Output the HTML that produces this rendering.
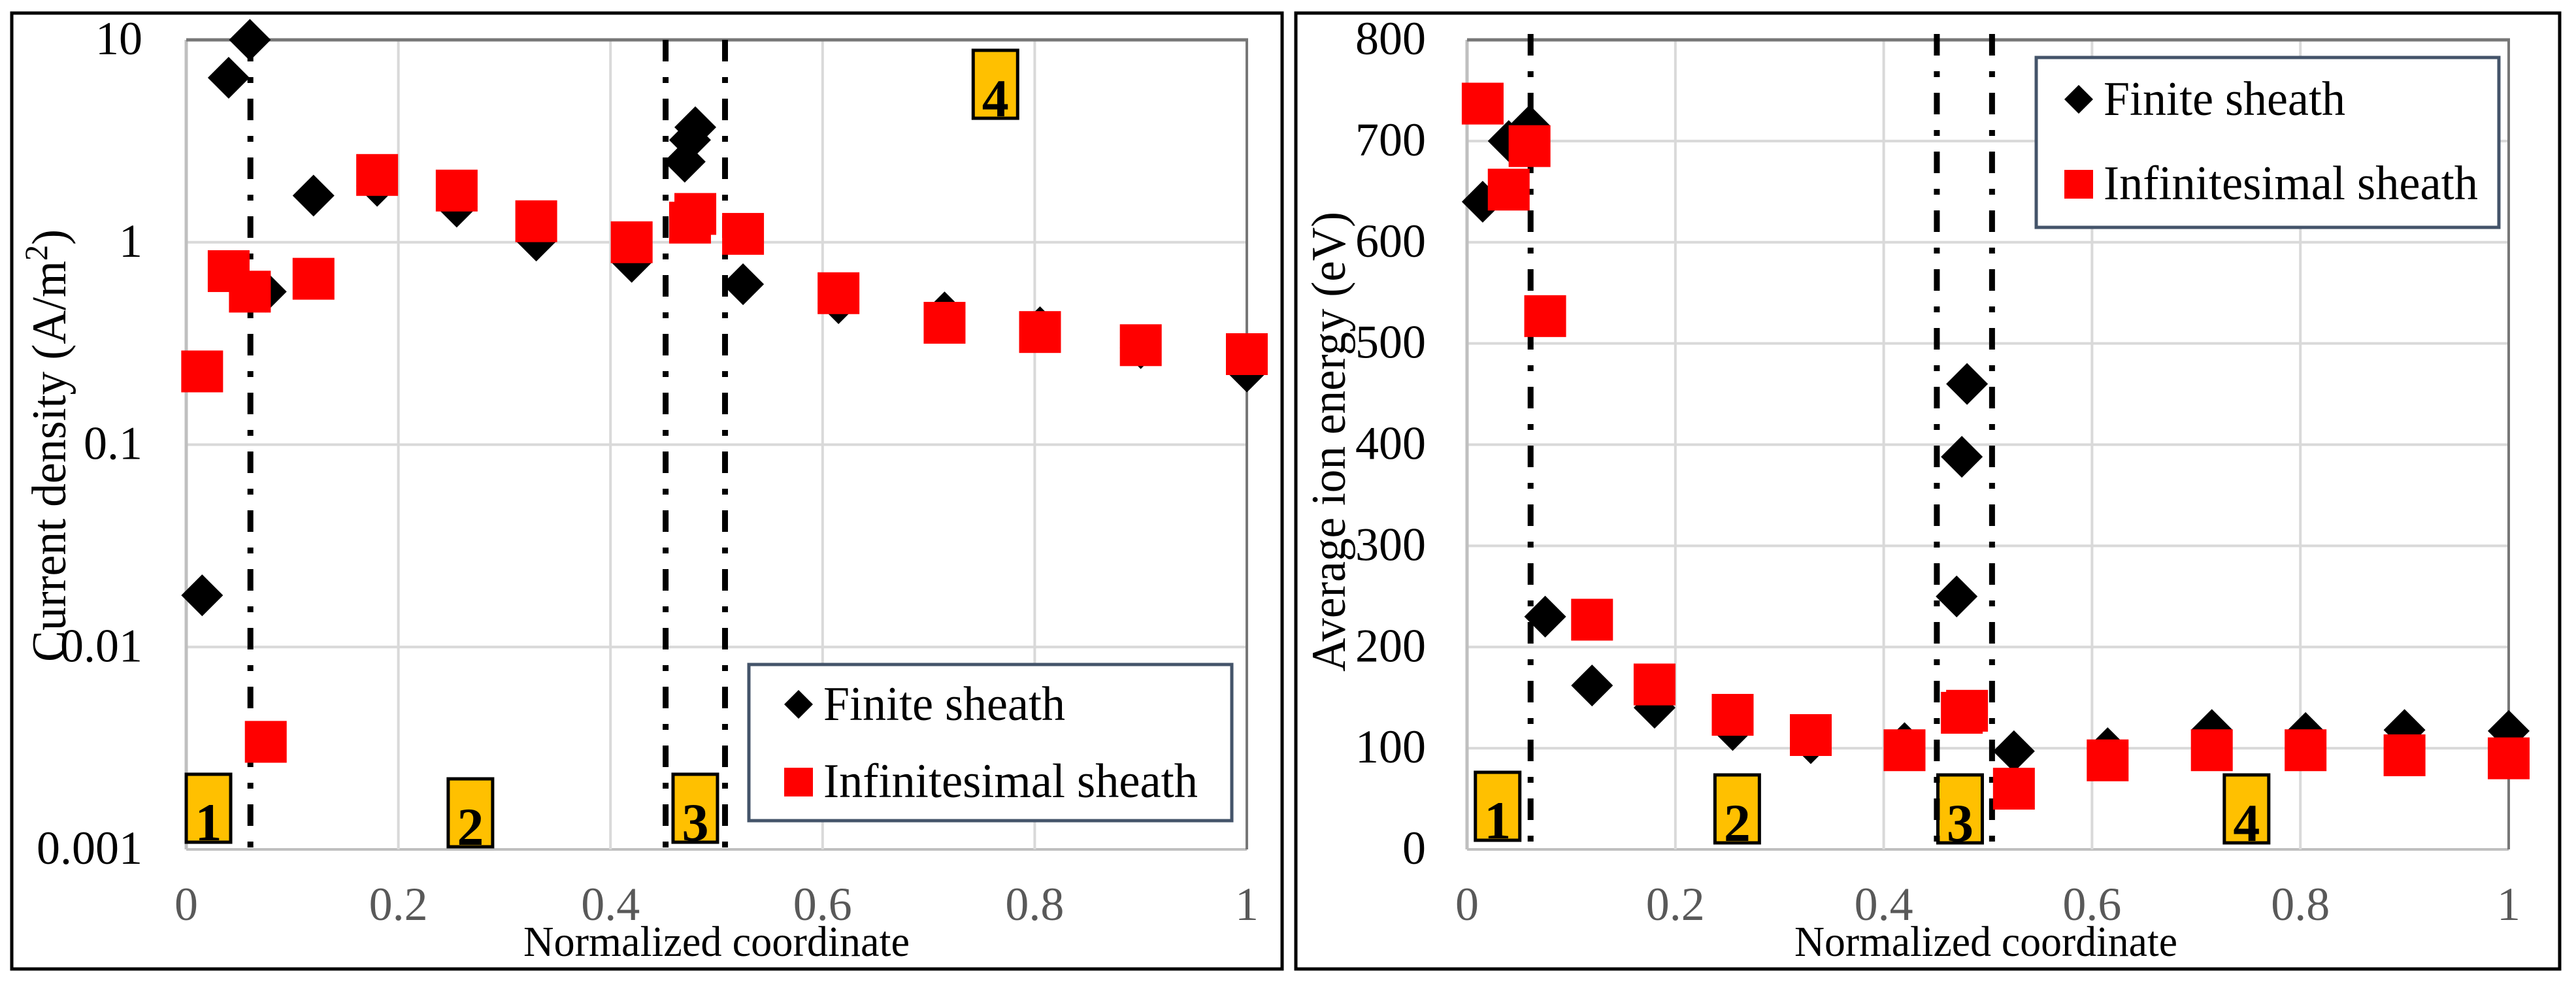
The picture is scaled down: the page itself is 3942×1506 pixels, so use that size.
<!DOCTYPE html>
<html><head><meta charset="utf-8"><style>
html,body{margin:0;padding:0;background:#fff;}
svg{display:block;}
svg text{font-family:"Liberation Serif","DejaVu Serif",serif;}
</style></head><body>
<svg id="c" width="3942" height="1506" viewBox="0 0 3942 1506" font-family="Liberation Serif, serif" xmlns="http://www.w3.org/2000/svg">
<rect x="0" y="0" width="3942" height="1506" fill="#fff"/>
<rect x="18" y="20" width="1944" height="1463" fill="none" stroke="#000" stroke-width="5"/>
<rect x="1983" y="20" width="1934" height="1463" fill="none" stroke="#000" stroke-width="5"/>
<g id="L"></g><g id="R"></g>
</svg>
<script>
// ---- data ----
const xTicks = [0, 0.2, 0.4, 0.6, 0.8, 1];
const xTickLabels = ["0", "0.2", "0.4", "0.6", "0.8", "1"];
const leftYTicks = [0.001, 0.01, 0.1, 1, 10];
const leftYTickLabels = ["0.001", "0.01", "0.1", "1", "10"];
const rightYTicks = [0, 100, 200, 300, 400, 500, 600, 700, 800];
const rightYTickLabels = ["0", "100", "200", "300", "400", "500", "600", "700", "800"];

const leftFiniteX = [0.015, 0.04, 0.06, 0.075, 0.12, 0.18, 0.255, 0.33, 0.42, 0.47, 0.475, 0.48, 0.525, 0.615, 0.715, 0.805, 0.9, 1.0];
const leftFiniteY = [0.018, 6.5, 10, 0.57, 1.7, 1.9, 1.5, 1.02, 0.8, 2.5, 3.2, 3.7, 0.62, 0.5, 0.45, 0.38, 0.3, 0.23];
const leftInfX = [0.015, 0.04, 0.06, 0.075, 0.12, 0.18, 0.255, 0.33, 0.42, 0.475, 0.48, 0.525, 0.615, 0.715, 0.805, 0.9, 1.0];
const leftInfY = [0.23, 0.72, 0.57, 0.0034, 0.66, 2.15, 1.8, 1.27, 1.0, 1.25, 1.38, 1.1, 0.56, 0.4, 0.36, 0.31, 0.28];

const rightFiniteX = [0.015, 0.04, 0.06, 0.075, 0.12, 0.18, 0.255, 0.33, 0.42, 0.47, 0.475, 0.48, 0.525, 0.615, 0.715, 0.805, 0.9, 1.0];
const rightFiniteY = [640, 700, 715, 230, 162, 140, 118, 105, 105, 250, 388, 460, 97, 100, 118, 115, 118, 117];
const rightInfX = [0.015, 0.04, 0.06, 0.075, 0.12, 0.18, 0.255, 0.33, 0.42, 0.475, 0.48, 0.525, 0.615, 0.715, 0.805, 0.9, 1.0];
const rightInfY = [737, 652, 695, 527, 227, 163, 133, 113, 98, 135, 137, 60, 88, 98, 98, 93, 90];

const leftRegionLines = [0.0605, 0.452, 0.508];
const rightRegionLines = [0.061, 0.451, 0.504];
const regionLabels = ["1", "2", "3", "4"];
const leftRegionX = [0.0, 0.247, 0.459, 0.742];
const rightRegionX = [0.008, 0.238, 0.452, 0.727];

const NS = "http://www.w3.org/2000/svg";
const FF = "Liberation Serif, DejaVu Serif, serif";
function mk(parent, tag, attrs, text) {
  const e = document.createElementNS(NS, tag);
  for (const k in attrs) e.setAttribute(k, attrs[k]);
  if (tag === "text") e.setAttribute("font-family", FF);
  if (text !== undefined) e.textContent = text;
  parent.appendChild(e);
  return e;
}

function drawPanel(g, cfg) {
  const X = v => cfg.x0 + (cfg.x1 - cfg.x0) * v;
  const Y = cfg.yfun;
  cfg.yTicks.forEach((t, i) => {
    const y = Y(t);
    const ln = mk(g, "line", {x1: cfg.x0, x2: cfg.x1, y1: y, y2: y, stroke: (i === cfg.yTicks.length - 1) ? "#777" : (i === 0 ? "#BFBFBF" : "#D9D9D9"), "stroke-width": (i === cfg.yTicks.length - 1) ? 5 : 4});
    
    
    const tl = mk(g, "text", {x: cfg.ylabX, y: y + 22, "text-anchor": "end", "font-size": 72, fill: "#000"}, cfg.yTickLabels[i]);
    
    
  });
  xTicks.forEach((t, i) => {
    const x = X(t);
    const ln = mk(g, "line", {x1: x, x2: x, y1: cfg.yTop, y2: cfg.yBot, stroke: i === 0 ? "#BFBFBF" : (i === xTicks.length - 1 ? "#777" : "#D9D9D9"), "stroke-width": i === 0 ? 5 : 4});
    
    
    const tl = mk(g, "text", {x: x, y: 1408, "text-anchor": "middle", "font-size": 72, fill: "#595959"}, xTickLabels[i]);
    
    
  });
  const tb = mk(g, "line", {x1: cfg.x0, x2: cfg.x1 + 2, y1: cfg.yTop, y2: cfg.yTop, stroke: "#777", "stroke-width": 5});
  
  

  regionLabels.forEach((lab, i) => {
    const bx = X(cfg.regionX[i]);
    const by = cfg.regionY[i];
    const r = mk(g, "rect", {x: bx, y: by, width: 68, height: 104, fill: "#FFC000", stroke: "#000", "stroke-width": 5});
    
    
    const t = mk(g, "text", {x: bx + 34, y: by + 101, "text-anchor": "middle", "font-size": 82, "font-weight": "bold", fill: "#000"}, lab);
    
    
  });

  cfg.lines.forEach(v => {
    const l = mk(g, "line", {x1: X(v), x2: X(v), y1: cfg.lineTop, y2: cfg.yBot, stroke: "#000", "stroke-width": 9, "stroke-dasharray": "33 24 9 24"});
    
    
  });

  cfg.fx.forEach((xv, i) => {
    const cx = X(xv), cy = Y(cfg.fy[i]), h = 32;
    const p = mk(g, "polygon", {points: `${cx},${cy - h} ${cx + h},${cy} ${cx},${cy + h} ${cx - h},${cy}`, fill: "#000"});
    
    
  });
  cfg.ix.forEach((xv, i) => {
    const cx = X(xv), cy = Y(cfg.iy[i]);
    const s = mk(g, "rect", {x: cx - 32, y: cy - 32, width: 64, height: 64, fill: "#FF0000"});
    
    
  });

  const L = cfg.legend;
  const lb = mk(g, "rect", {x: L.x, y: L.y, width: L.w, height: L.h, fill: "#fff", stroke: "#44546A", "stroke-width": 5});
  
  
  const dcx = L.mx, dcy = L.b1 - 24;
  const ld = mk(g, "polygon", {points: `${dcx},${dcy - 22} ${dcx + 22},${dcy} ${dcx},${dcy + 22} ${dcx - 22},${dcy}`, fill: "#000"});
  
  
  const t1 = mk(g, "text", {x: L.mx + 38, y: L.b1, "font-size": 74, textLength: 370, lengthAdjust: "spacingAndGlyphs", fill: "#000"}, "Finite sheath");
  
  
  const ls = mk(g, "rect", {x: L.mx - 22, y: L.b2 - 45, width: 44, height: 44, fill: "#FF0000"});
  
  
  const t2 = mk(g, "text", {x: L.mx + 38, y: L.b2, "font-size": 74, textLength: 573, lengthAdjust: "spacingAndGlyphs", fill: "#000"}, "Infinitesimal sheath");
  
  

  const xt = mk(g, "text", {x: cfg.xtX, y: 1463, "font-size": 66, textLength: cfg.xtW, lengthAdjust: "spacingAndGlyphs", fill: "#000"}, "Normalized coordinate");
  
  
  const yt = mk(g, "text", {x: 0, y: 0, "font-size": 74, textLength: cfg.ytLen, lengthAdjust: "spacingAndGlyphs", "text-anchor": "middle", fill: "#000", transform: `translate(${cfg.ytX},${cfg.ytY}) rotate(-90)`});
  
  
  yt.innerHTML = cfg.ytHTML;
}

const LT = 61, LB = 1300;
drawPanel(document.getElementById("L"), {
  x0: 285, x1: 1908, yTop: LT, yBot: LB, lineTop: LT,
  yfun: v => LB - (Math.log10(v) + 3) / 4 * (LB - LT),
  yTicks: leftYTicks, yTickLabels: leftYTickLabels, ylabX: 218,
  regionX: leftRegionX, regionY: [1185, 1192, 1185, 77],
  lines: leftRegionLines,
  fx: leftFiniteX, fy: leftFiniteY, ix: leftInfX, iy: leftInfY,
  legend: {x: 1146, y: 1017, w: 739, h: 239, mx: 1222, b1: 1102, b2: 1220},
  xtX: 801, xtW: 591, ytX: 100, ytY: 682, ytLen: 662,
  ytHTML: 'Current density (A/m<tspan dy="-28" font-size="50">2</tspan><tspan dy="28">)</tspan>'
});
const RT = 61, RB = 1300;
drawPanel(document.getElementById("R"), {
  x0: 2245, x1: 3839, yTop: RT, yBot: RB, lineTop: 52,
  yfun: v => RB - v / 800 * (RB - RT),
  yTicks: rightYTicks, yTickLabels: rightYTickLabels, ylabX: 2182,
  regionX: rightRegionX, regionY: [1182, 1186, 1186, 1186],
  lines: rightRegionLines,
  fx: rightFiniteX, fy: rightFiniteY, ix: rightInfX, iy: rightInfY,
  legend: {x: 3116, y: 88, w: 708, h: 260, mx: 3181, b1: 176, b2: 305},
  xtX: 2746, xtW: 586, ytX: 2058, ytY: 676, ytLen: 704,
  ytHTML: 'Average ion energy (eV)'
});
</script>
</body></html>
